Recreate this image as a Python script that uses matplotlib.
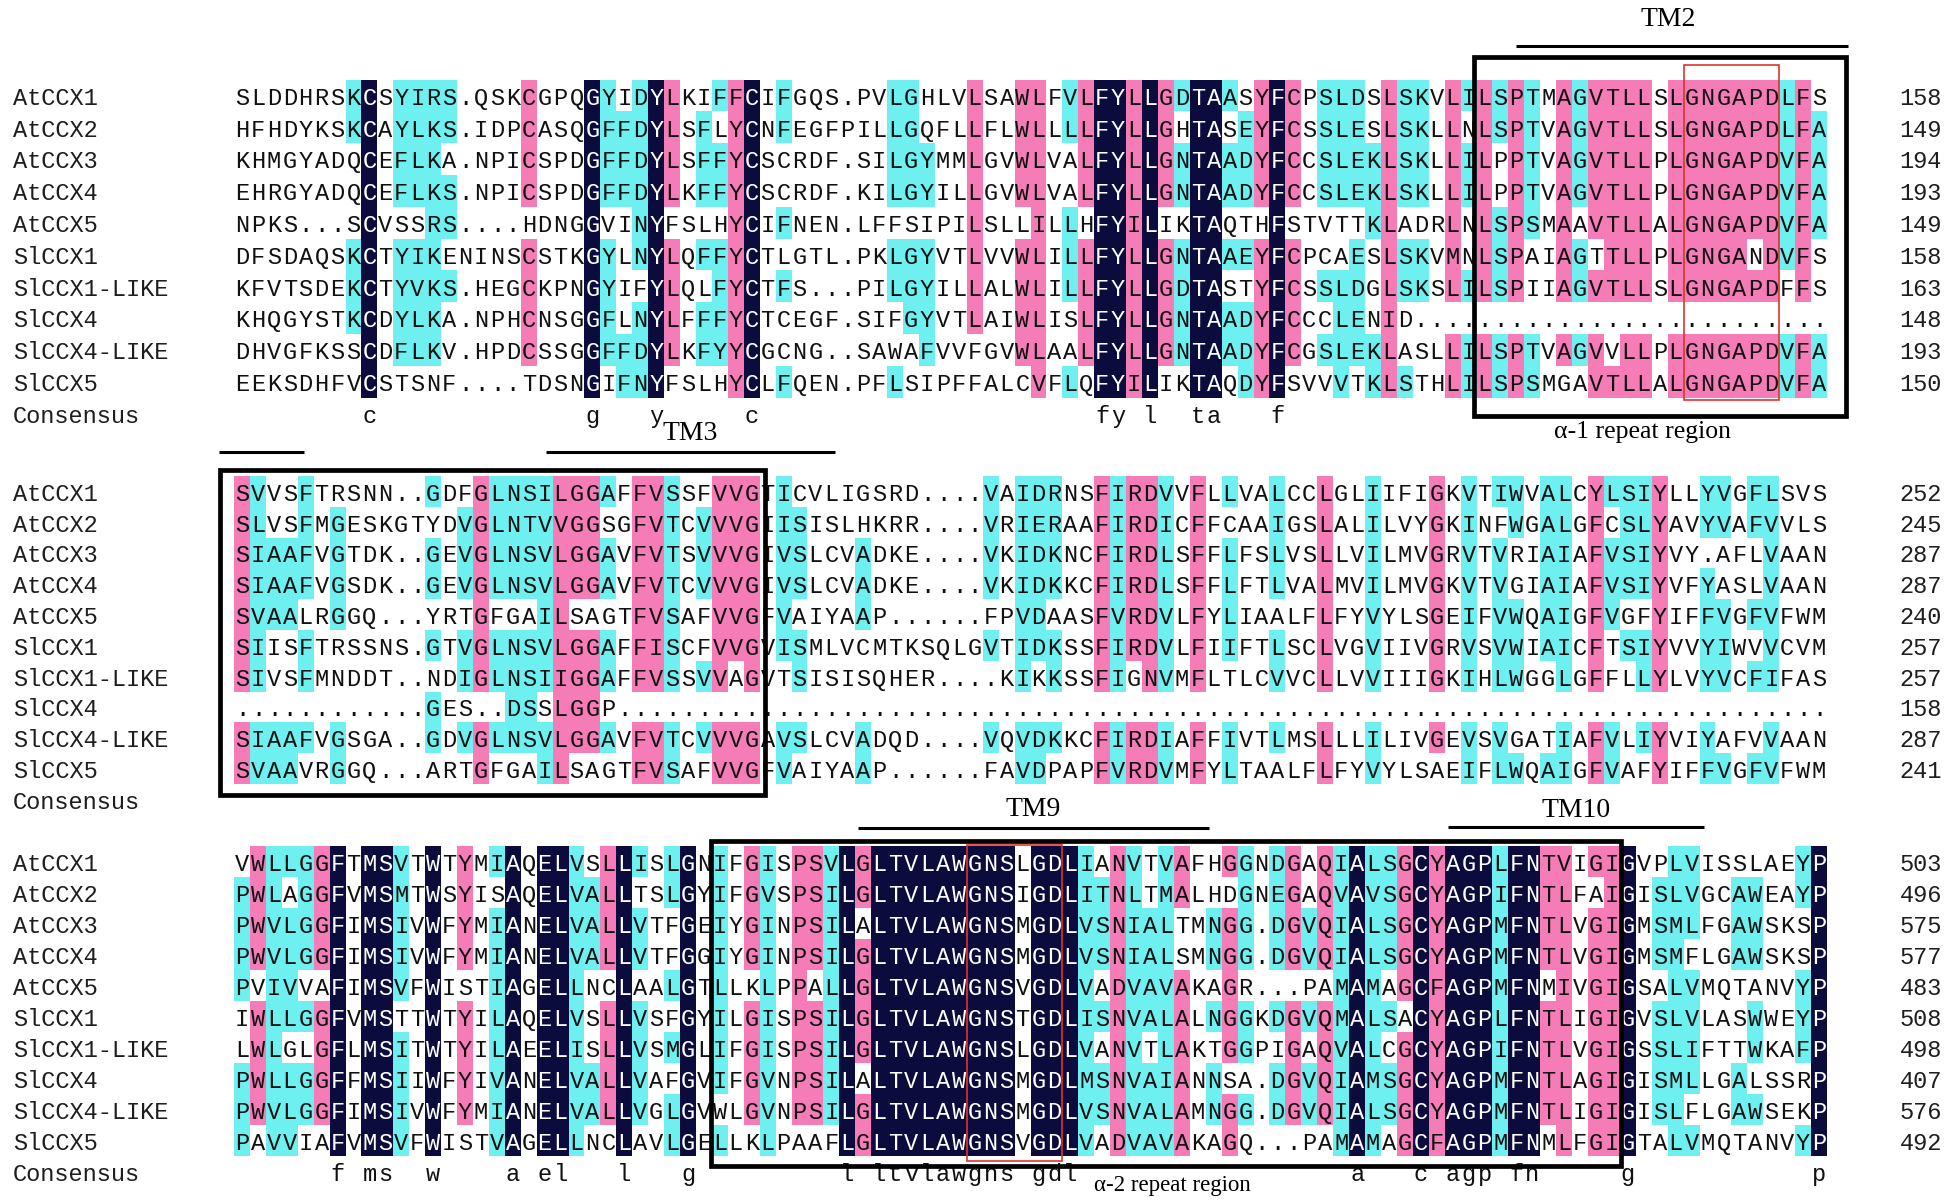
import matplotlib
matplotlib.use("Agg")
import matplotlib.pyplot as plt
from matplotlib.patches import Rectangle
from collections import Counter

# ---------------- data ----------------
names = ["AtCCX1", "AtCCX2", "AtCCX3", "AtCCX4", "AtCCX5",
         "SlCCX1", "SlCCX1-LIKE", "SlCCX4", "SlCCX4-LIKE", "SlCCX5"]

block1 = [
    "SLDDHRSKCSYIRS.QSKCGPQGYIDYLKIFFCIFGQS.PVLGHLVLSAWLFVLFYLLGDTAASYFCPSLDSLSKVLILSPTMAGVTLLSLGNGAPDLFS",
    "HFHDYKSKCAYLKS.IDPCASQGFFDYLSFLYCNFEGFPILLGQFLLFLWLLLLFYLLGHTASEYFCSSLESLSKLLNLSPTVAGVTLLSLGNGAPDLFA",
    "KHMGYADQCEFLKA.NPICSPDGFFDYLSFFYCSCRDF.SILGYMMLGVWLVALFYLLGNTAADYFCCSLEKLSKLLILPPTVAGVTLLPLGNGAPDVFA",
    "EHRGYADQCEFLKS.NPICSPDGFFDYLKFFYCSCRDF.KILGYILLGVWLVALFYLLGNTAADYFCCSLEKLSKLLILPPTVAGVTLLPLGNGAPDVFA",
    "NPKS...SCVSSRS....HDNGGVINYFSLHYCIFNEN.LFFSIPILSLLILLHFYILIKTAQTHFSTVTTKLADRLNLSPSMAAVTLLALGNGAPDVFA",
    "DFSDAQSKCTYIKENINSCSTKGYLNYLQFFYCTLGTL.PKLGYVTLVVWLILLFYLLGNTAAEYFCPCAESLSKVMNLSPAIAGTTLLPLGNGANDVFS",
    "KFVTSDEKCTYVKS.HEGCKPNGYIFYLQLFYCTFS...PILGYILLALWLILLFYLLGDTASTYFCSSLDGLSKSLILSPIIAGVTLLSLGNGAPDFFS",
    "KHQGYSTKCDYLKA.NPHCNSGGFLNYLFFFYCTCEGF.SIFGYVTLAIWLISLFYLLGNTAADYFCCCLENID..........................",
    "DHVGFKSSCDFLKV.HPDCSSGGFFDYLKFYYCGCNG..SAWAFVVFGVWLAALFYLLGNTAADYFCGSLEKLASLLILSPTVAGVVLLPLGNGAPDVFA",
    "EEKSDHFVCSTSNF....TDSNGIFNYFSLHYCLFQEN.PFLSIPFFALCVFLQFYILIKTAQDYFSVVVTKLSTHLILSPSMGAVTLLALGNGAPDVFA",
]
block2 = [
    "SVVSFTRSNN..GDFGLNSILGGAFFVSSFVVGTICVLIGSRD....VAIDRNSFIRDVVFLLVALCCLGLIIFIGKVTIWVALCYLSIYLLYVGFLSVS",
    "SLVSFMGESKGTYDVGLNTVVGGSGFVTCVVVGIISISLHKRR....VRIERAAFIRDICFFCAAIGSLALILVYGKINFWGALGFCSLYAVYVAFVVLS",
    "SIAAFVGTDK..GEVGLNSVLGGAVFVTSVVVGIVSLCVADKE....VKIDKNCFIRDLSFFLFSLVSLLVILMVGRVTVRIAIAFVSIYVY.AFLVAAN",
    "SIAAFVGSDK..GEVGLNSVLGGAVFVTCVVVGIVSLCVADKE....VKIDKKCFIRDLSFFLFTLVALMVILMVGKVTVGIAIAFVSIYVFYASLVAAN",
    "SVAALRGGQ...YRTGFGAILSAGTFVSAFVVGFVAIYAAP......FPVDAASFVRDVLFYLIAALFLFYVYLSGEIFVWQAIGFVGFYIFFVGFVFWM",
    "SIISFTRSSNS.GTVGLNSVLGGAFFISCFVVGVISMLVCMTKSQLGVTIDKSSFIRDVLFIIFTLSCLVGVIIVGRVSVWIAICFTSIYVVYIWVVCVM",
    "SIVSFMNDDT..NDIGLNSIIGGAFFVSSVVAGVTSISISQHER....KIKKSSFIGNVMFLTLCVVCLLVVIIIGKIHLWGGLGFFLLYLVYVCFIFAS",
    "............GES..DSSLGGP.............................................................................",
    "SIAAFVGSGA..GDVGLNSVLGGAVFVTCVVVGAVSLCVADQD....VQVDKKCFIRDIAFFIVTLMSLLLILIVGEVSVGATIAFVLIYVIYAFVVAAN",
    "SVAAVRGGQ...ARTGFGAILSAGTFVSAFVVGFVAIYAAP......FAVDPAPFVRDVMFYLTAALFLFYVYLSAEIFLWQAIGFVAFYIFFVGFVFWM",
]
block3 = [
    "VWLLGGFTMSVTWTYMIAQELVSLLISLGNIFGISPSVLGLTVLAWGNSLGDLIANVTVAFHGGNDGAQIALSGCYAGPLFNTVIGIGVPLVISSLAEYP",
    "PWLAGGFVMSMTWSYISAQELVALLTSLGYIFGVSPSILGLTVLAWGNSIGDLITNLTMALHDGNEGAQVAVSGCYAGPIFNTLFAIGISLVGCAWEAYP",
    "PWVLGGFIMSIVWFYMIANELVALLVTFGEIYGINPSILALTVLAWGNSMGDLVSNIALTMNGG.DGVQIALSGCYAGPMFNTLVGIGMSMLFGAWSKSP",
    "PWVLGGFIMSIVWFYMIANELVALLVTFGGIYGINPSILGLTVLAWGNSMGDLVSNIALSMNGG.DGVQIALSGCYAGPMFNTLVGIGMSMFLGAWSKSP",
    "PVIVVAFIMSVFWISTIAGELLNCLAALGTLLKLPPALLGLTVLAWGNSVGDLVADVAVAKAGR...PAMAMAGCFAGPMFNMIVGIGSALVMQTANVYP",
    "IWLLGGFVMSTTWTYILAQELVSLLVSFGYILGISPSILGLTVLAWGNSTGDLISNVALALNGGKDGVQMALSACYAGPLFNTLIGIGVSLVLASWWEYP",
    "LWLGLGFLMSITWTYILAEELISLLVSMGLIFGISPSILGLTVLAWGNSLGDLVANVTLAKTGGPIGAQVALCGCYAGPIFNTLVGIGSSLIFTTWKAFP",
    "PWLLGGFFMSIIWFYIVANELVALLVAFGVIFGVNPSILALTVLAWGNSMGDLMSNVAIANNSA.DGVQIAMSGCYAGPMFNTLAGIGISMLLGALSSRP",
    "PWVLGGFIMSIVWFYMIANELVALLVGLGVWLGVNPSILGLTVLAWGNSMGDLVSNVALAMNGG.DGVQIALSGCYAGPMFNTLIGIGISLFLGAWSEKP",
    "PAVVIAFVMSVFWISTVAGELLNCLAVLGELLKLPAAFLGLTVLAWGNSVGDLVADVAVAKAGQ...PAMAMAGCFAGPMFNMLFGIGTALVMQTANVYP",
]
ends1 = [158, 149, 194, 193, 149, 158, 163, 148, 193, 150]
ends2 = [252, 245, 287, 287, 240, 257, 257, 158, 287, 241]
ends3 = [503, 496, 575, 577, 483, 508, 498, 407, 576, 492]

# consensus letters (1-based column -> letters)
cons1 = {9: "c", 23: "g", 27: "y", 33: "c", 55: "fy", 58: "l", 61: "ta", 66: "f"}
cons2 = {}
cons3 = {7: "f", 9: "ms", 13: "w", 18: "a", 20: "el", 25: "l", 29: "g", 39: "l",
         41: "ltvlawgns", 51: "gdl", 71: "a", 75: "c", 77: "agp", 81: "fn",
         88: "g", 100: "p"}

# annotations: (block, first column, last column)
tm_labels = ["TM2", "", "TM3", "TM9", "TM10"]
tm_spans = [(0, 80.5, 101.3), (1, -0.95, 4.4), (1, 19.6, 37.7), (2, 39.2, 61.2), (2, 76.2, 92.3)]
region_boxes = [(0, 79, 100), (1, 1, 33), (2, 31, 87)]
motif_boxes = [(0, 92, 97), (2, 47, 52)]
region_labels = [(0, "α-1 repeat region", 88.4), (2, "α-2 repeat region", 58.9)]

# ---------------- style / layout ----------------
W, H = 1957, 1204
X0, PITCH = 234.0, 15.93
ROW0 = [97.0, 493.0, 863.0]
RP = [31.8, 30.8, 31.0]
NAVY, PINK, CYAN = "#0b0b3d", "#f57cb6", "#6ef0f0"
MONO = "Liberation Mono"
SERIF = "Liberation Serif"
FS = 17.0
BL = 7.8
groups = ["ILVM", "FYW", "KR", "DENQ", "ST"]

def similar(a, b):
    return any(a in g and b in g for g in groups)

fig = plt.figure(figsize=(W / 100, H / 100), dpi=100)
ax = fig.add_axes([0, 0, 1, 1])
ax.set_xlim(0, W)
ax.set_ylim(H, 0)
ax.axis("off")

def cx(c):  # left edge of 1-based column c
    return X0 + (c - 1) * PITCH

blocks = [block1, block2, block3]
ends = [ends1, ends2, ends3]
conss = [cons1, cons2, cons3]

for b, seqs in enumerate(blocks):
    r0, rp = ROW0[b], RP[b]
    cons = {}
    for start, letters in conss[b].items():
        for k, ch in enumerate(letters):
            cons[start + k] = ch
    ncol = len(seqs[0])
    for j in range(ncol):
        col = [s[j] for s in seqs]
        cnt = Counter(ch for ch in col if ch != ".")
        colors = [None] * len(seqs)
        if (j + 1) in cons:
            colors = [NAVY] * len(seqs)
        elif cnt:
            top = max(cnt.values())
            tops = [ch for ch, n in cnt.items() if n == top]
            lev = PINK if top >= 8 else (CYAN if top >= 5 else None)
            if lev:
                for i, ch in enumerate(col):
                    if ch != "." and any(ch == t or similar(ch, t) for t in tops):
                        colors[i] = lev
        for i, ch in enumerate(col):
            yc = r0 + i * rp
            if colors[i]:
                ax.add_patch(Rectangle((cx(j + 1), yc - 0.55 * rp), PITCH, rp,
                                       facecolor=colors[i], edgecolor="none",
                                       lw=0, antialiased=False, zorder=1))
            ax.text(cx(j + 1) + PITCH / 2, yc + BL, ch, family=MONO, fontsize=FS,
                    ha="center", va="baseline",
                    color="white" if colors[i] == NAVY else "#111111", zorder=3)
    for i, nm in enumerate(names):
        yc = r0 + i * rp
        ax.text(13, yc + BL, nm, family=MONO, fontsize=FS, ha="left",
                va="baseline", color="#1e1e1e", zorder=3)
        ax.text(1942, yc + BL, str(ends[b][i]), family=MONO, fontsize=FS,
                ha="right", va="baseline", color="#1e1e1e", zorder=3)
    yc = r0 + 10 * rp
    ax.text(13, yc + BL, "Consensus", family=MONO, fontsize=FS, ha="left",
            va="baseline", color="#1e1e1e", zorder=3)
    for c, ch in cons.items():
        ax.text(cx(c) + PITCH / 2, yc + BL, ch, family=MONO, fontsize=FS,
                ha="center", va="baseline", color="#111111", zorder=3)

# region boxes
box_pad = [(-3, 19, -40, 319), (-14, 5, -23, 302), (-1, 1, -22, 303)]
for (b, c0, c1), (pl, pr, pt, pb) in zip(region_boxes, box_pad):
    x0 = cx(c0) + pl
    x1 = cx(c1) + PITCH + pr
    y0 = ROW0[b] + pt
    y1 = ROW0[b] + pb
    ax.add_patch(Rectangle((x0, y0), x1 - x0, y1 - y0, fill=False, edgecolor="black",
                           lw=3.4, joinstyle="miter", zorder=5))

motif_pad = [(-32, 303), (-18, 298)]
for (b, c0, c1), (pt, pb) in zip(motif_boxes, motif_pad):
    x0 = cx(c0)
    x1 = cx(c1) + PITCH
    ax.add_patch(Rectangle((x0, ROW0[b] + pt), x1 - x0, pb - pt, fill=False,
                           edgecolor="#e0322f", lw=1.2, zorder=6))

# TM lines and labels
line_y = [-51, -41, -41, -35, -36]
label_gap = [14, 0, 6, 6, 4]
for lab, (b, s0, s1), ly, gap in zip(tm_labels, tm_spans, line_y, label_gap):
    y = ROW0[b] + ly
    ax.plot([X0 + s0 * PITCH, X0 + s1 * PITCH], [y, y], color="black", lw=2.2,
            solid_capstyle="butt", zorder=5)
    if lab:
        xm = X0 + (s0 + s1) / 2 * PITCH
        if lab == "TM2":
            xm = X0 + 90.0 * PITCH
        ax.text(xm, y - gap, lab, family=SERIF, fontsize=20, ha="center",
                va="bottom", color="black", zorder=6)

# region labels
reg_y = [335, 322]
reg_fs = [18.5, 16.5]
for (b, txt, cpos), dy, fs in zip(region_labels, reg_y, reg_fs):
    ax.text(X0 + cpos * PITCH, ROW0[b] + dy, txt, family=SERIF, fontsize=fs,
            ha="center", va="center", color="black", zorder=6)

fig.savefig("out.png", dpi=100)
